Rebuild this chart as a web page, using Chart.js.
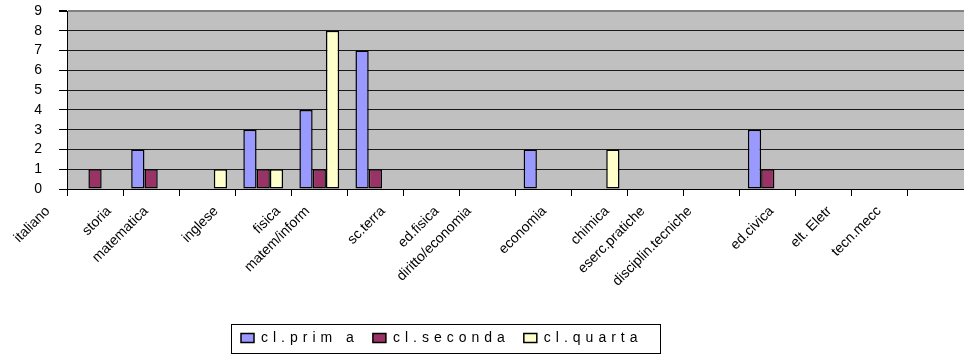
<!DOCTYPE html>
<html>
<head>
<meta charset="utf-8">
<script src="https://cdn.jsdelivr.net/npm/chart.js@4.4.1/dist/chart.umd.min.js"></script>
<style>
  html, body { margin: 0; padding: 0; background: #fff; overflow: hidden; }
  #grafico { display: block; }
</style>
</head>
<body>
<canvas id="grafico" width="964" height="355"></canvas>
<script>
/* dati */
var materie = ["italiano", "storia", "matematica", "inglese", "fisica", "matem/inform",
  "sc.terra", "ed.fisica", "diritto/economia", "economia", "chimica", "eserc.pratiche",
  "disciplin.tecniche", "ed.civica", "elt. Eletr", "tecn.mecc"];
var clPrima   = [null, 2, null, 3, 4, 7, null, null, 2, null, null, null, 3, null, null, null];
var clSeconda = [1, 1, null, 1, 1, 1, null, null, null, null, null, null, 1, null, null, null];
var clQuarta  = [null, null, 1, 1, 8, null, null, null, null, 2, null, null, null, null, null, null];
var valoriAsseY = [0, 1, 2, 3, 4, 5, 6, 7, 8, 9];

var FONT = "'Liberation Sans', Arial, sans-serif";

/* categorie con etichette spostate come in Excel */
class CategoriaExcel extends Chart.CategoryScale {
  _computeLabelItems(chartArea) {
    var items = super._computeLabelItems(chartArea);
    var ctx = this.ctx;
    ctx.save();
    items.forEach(function (it) {
      ctx.font = it.font.string;
      var w = ctx.measureText(it.label).width;
      it.options.translation[0] -= (25 + 0.5 * w);
    });
    ctx.restore();
    return items;
  }
}
CategoriaExcel.id = "categoriaExcel";
CategoriaExcel.defaults = Chart.CategoryScale.defaults;
Chart.register(CategoriaExcel);

/* sfondo grigio dell'area del grafico */
var sfondoArea = {
  id: "sfondoArea",
  beforeDraw: function (chart) {
    var a = chart.chartArea, ctx = chart.ctx;
    ctx.save();
    ctx.fillStyle = "#C0C0C0";
    ctx.fillRect(a.left, a.top, a.right - a.left, a.bottom - a.top);
    ctx.restore();
  }
};

/* legenda: spaziatura lettere, cornice, posizione */
var legendaExcel = {
  id: "legendaExcel",
  beforeUpdate: function (chart) {
    var lg = chart.legend;
    if (lg && !lg._spaziata) {
      lg._spaziata = true;
      ["fit", "draw"].forEach(function (fn) {
        var orig = lg[fn];
        lg[fn] = function () {
          var old = chart.ctx.letterSpacing;
          chart.ctx.letterSpacing = "5px";
          var r = orig.apply(lg, arguments);
          chart.ctx.letterSpacing = old || "0px";
          return r;
        };
      });
    }
  },
  afterLayout: function (chart) {
    var lg = chart.legend;
    var pad = lg.options.labels.padding;
    var h = lg.bottom - lg.top;
    var w = lg.right - lg.left;
    lg.left = 241 - pad;
    lg.right = lg.left + w;
    lg.top = 331 - pad;
    lg.bottom = lg.top + h;
  },
  afterDraw: function (chart) {
    var boxes = chart.legend.legendHitBoxes;
    if (!boxes || !boxes.length) return;
    var l = Infinity, r = -Infinity, t = Infinity, b = -Infinity;
    boxes.forEach(function (h) {
      l = Math.min(l, h.left); r = Math.max(r, h.left + h.width);
      t = Math.min(t, h.top); b = Math.max(b, h.top + h.height);
    });
    var ctx = chart.ctx;
    ctx.save();
    ctx.strokeStyle = "#000";
    ctx.lineWidth = 1;
    ctx.strokeRect(Math.round(l - 10) + 0.5, Math.round(t - 7) + 0.5, Math.round(r - l + 27), Math.round(b - t + 15));
    ctx.restore();
  }
};

var ctx = document.getElementById("grafico");
var grafico = new Chart(ctx, {
  type: "bar",
  data: {
    labels: materie,
    datasets: [{
      label: "cl.prim a",
      data: clPrima,
      backgroundColor: "#9999FF",
      borderColor: "#000",
      borderWidth: 1.5
    }, {
      label: "cl.seconda",
      data: clSeconda,
      backgroundColor: "#993366",
      borderColor: "#000",
      borderWidth: 1.5
    }, {
      label: "cl.quarta",
      data: clQuarta,
      backgroundColor: "#FFFFCC",
      borderColor: "#000",
      borderWidth: 1.5
    }]
  },
  options: {
    responsive: false,
    animation: false,
    devicePixelRatio: 1,
    layout: { padding: { top: 11, right: 0, bottom: 2, left: 0 } },
    datasets: { bar: { categoryPercentage: 0.71, barPercentage: 1, borderSkipped: false } },
    plugins: {
      tooltip: { enabled: false },
      legend: {
        position: "bottom",
        align: "start",
        labels: {
          color: "#000",
          font: { family: FONT, size: 14 },
          boxWidth: 13,
          boxHeight: 9,
          padding: 14,
          useBorderRadius: false
        }
      }
    },
    scales: {
      x: {
        type: "categoriaExcel",
        border: { color: "#000", width: 1 },
        grid: { offset: true, drawOnChartArea: false, drawTicks: true, tickLength: 7, tickColor: "#000" },
        ticks: {
          color: "#000",
          font: { family: FONT, size: 14 },
          minRotation: 45,
          maxRotation: 45,
          autoSkip: false,
          padding: 7
        },
        afterFit: function (scale) {
          scale.height = scale.chart.height - 189 - scale.chart.legend.height - 2;
        }
      },
      y: {
        min: 0,
        max: 9,
        border: { color: "#000", width: 1 },
        grid: {
          color: function (c) { return c.index === valoriAsseY.length - 1 ? "#808080" : "#1a1a1a"; },
          lineWidth: function (c) { return c.index === valoriAsseY.length - 1 ? 2 : 1; },
          tickColor: "#000",
          tickLength: 8
        },
        afterBuildTicks: function (scale) {
          scale.ticks = valoriAsseY.map(function (v) { return { value: v }; });
        },
        ticks: {
          color: "#000",
          font: { family: FONT, size: 14 },
          padding: 17,
          autoSkip: false
        },
        afterFit: function (scale) {
          scale.width = 67;
          scale.paddingTop = 0;
          scale.paddingBottom = 0;
        }
      }
    }
  },
  plugins: [sfondoArea, legendaExcel]
});
</script>
</body>
</html>
